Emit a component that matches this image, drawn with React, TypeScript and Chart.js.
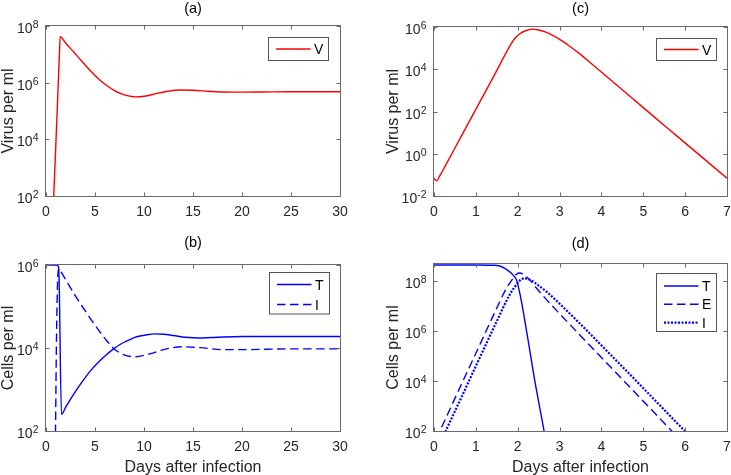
import React, { useEffect, useRef } from "react";
import { Chart, registerables } from "chart.js";
Chart.register(...registerables);

const W = 731;
const H = 475;

// ---------- Panel (a): virus, 30 days ----------
const aTime = [0.7, 0.79, 1.0, 1.2, 1.35, 1.45, 2.0, 2.83, 3.7, 4.53, 5.4, 6.22, 7.0, 7.58, 8.3, 9.1, 10.2, 11.3, 12.5, 13.7, 15.0, 16.5, 18.1, 20, 22, 25, 30];
const aVirus = [1.7e1, 1e2, 6e3, 3.3e5, 7e6, 4.2e7, 2.51e7, 1.2e7, 5.5e6, 2.63e6, 1.32e6, 7.76e5, 5.25e5, 4.17e5, 3.47e5, 3.16e5, 3.39e5, 4.17e5, 5.0e5, 5.5e5, 5.37e5, 5.0e5, 4.68e5, 4.62e5, 4.68e5, 4.79e5, 4.79e5];

// ---------- Panel (b): cells, 30 days ----------
const bTimeT = [0, 1.1, 1.22, 1.3, 1.58, 2.0, 2.83, 3.7, 4.53, 5.4, 6.22, 6.9, 7.6, 8.25, 9.0, 9.6, 10.3, 11, 12, 13, 14.2, 15.7, 17.5, 20, 25, 30];
const bT = [1e6, 1e6, 9.5e5, 8.3e5, 251, 372, 776, 1549, 2818, 4677, 7079, 9550, 1.23e4, 1.48e4, 1.78e4, 1.95e4, 2.09e4, 2.19e4, 2.14e4, 2.0e4, 1.82e4, 1.74e4, 1.82e4, 1.9e4, 1.9e4, 1.9e4];
const bTimeI = [0.9, 0.97, 1.07, 1.2, 1.33, 1.6, 2.2, 2.83, 3.7, 4.53, 5.4, 6.22, 6.9, 7.9, 9.1, 10.6, 12.3, 14.0, 15.7, 18.1, 20, 25, 30];
const bI = [5, 1e2, 1.7e4, 5e5, 8.3e5, 6.46e5, 3.72e5, 2.09e5, 1e5, 5.13e4, 2.63e4, 1.48e4, 9.77e3, 6.92e3, 6.17e3, 7.24e3, 9.55e3, 1.07e4, 1.02e4, 9.12e3, 9.12e3, 9.55e3, 9.55e3];

// ---------- Panel (c): virus, 7 days ----------
const cTime = [0, 0.06, 0.15, 0.26, 0.66, 1.05, 1.45, 1.85, 1.95, 2.05, 2.17, 2.36, 2.5, 2.64, 2.8, 3.04, 3.2, 3.44, 3.8, 4.23, 5.02, 5.82, 7.0];
const cVirus = [0.069, 0.052, 0.1, 0.245, 7.2, 195, 5750, 1.66e5, 3.16e5, 4.79e5, 6.46e5, 7.9e5, 7.24e5, 6.03e5, 4.37e5, 2.34e5, 1.41e5, 6.31e4, 1.58e4, 3.02e3, 141, 6.46, 0.069];

// ---------- Panel (d): cells, 7 days ----------
const dTimeT = [0, 1.0, 1.4, 1.55, 1.69, 1.85, 1.97, 2.03, 2.09, 2.25, 2.4, 2.63, 2.75];
const dT = [4.2e8, 4.2e8, 4.1e8, 3.9e8, 3.1e8, 1.95e8, 1.05e8, 4.5e7, 1.45e7, 4e5, 1.2e4, 1e2, 7];
const dTimeE = [0.05, 0.14, 0.6, 1.0, 1.4, 1.7, 1.85, 1.95, 2.03, 2.15, 2.3, 2.45, 2.64, 3.0, 3.44, 4.23, 5.0, 5.68, 5.8];
const dE = [4.8e1, 1e2, 4.6e3, 1.26e5, 3.5e6, 4e7, 1e8, 1.66e8, 2e8, 1.74e8, 1e8, 5e7, 2.14e7, 4.8e6, 8.1e5, 3.4e4, 1.55e3, 1e2, 6.2e1];
const dTimeI = [0.2, 0.28, 0.7, 1.1, 1.5, 1.8, 1.95, 2.05, 2.15, 2.3, 2.5, 2.7, 3.0, 3.44, 4.23, 5.0, 5.99, 6.1];
const dI = [5.1e1, 1e2, 3.2e3, 8.9e4, 2.4e6, 2.6e7, 6.3e7, 1e8, 1.23e8, 1.07e8, 6.3e7, 3.5e7, 1.2e7, 2.3e6, 1.05e5, 5.1e3, 1e2, 6.5e1];

// ---------- Tick labels ----------
const xTicks30 = [0, 5, 10, 15, 20, 25, 30];
const xTicks7 = [0, 1, 2, 3, 4, 5, 6, 7];
const yExpA = [2, 4, 6, 8];
const yExpB = [2, 4, 6];
const yExpC = [-2, 0, 2, 4, 6];
const yExpD = [2, 4, 6, 8];

const RED = "#ff0000";
const BLUE = "#0000ff";
const AXIS = "#6a6a6a";
const TEXT = "#262626";
const FONT = '"Liberation Sans", Arial, Helvetica, sans-serif';

type Series = { label: string; t: number[]; v: number[]; color: string; width: number; dash: number[] };
type Panel = {
  area: { l: number; t: number; r: number; b: number };
  title: string;
  titleY: number;
  xMin: number;
  xMax: number;
  xTicks: number[];
  yMin: number;
  yMax: number;
  yExps: number[];
  yLabel: string;
  yLabelX: number;
  xLabel?: string;
  series: Series[];
  legend: { x: number; y: number; w: number; h: number; first: number; step: number };
};

const panels: Panel[] = [
  {
    area: { l: 46, t: 26, r: 340, b: 196 },
    title: "(a)", titleY: 13,
    xMin: 0, xMax: 30, xTicks: xTicks30,
    yMin: 1e2, yMax: 1e8, yExps: yExpA,
    yLabel: "Virus per ml", yLabelX: 13,
    series: [{ label: "V", t: aTime, v: aVirus, color: RED, width: 1.4, dash: [] }],
    legend: { x: 268.5, y: 37.5, w: 60, h: 23, first: 11.5, step: 18.5 },
  },
  {
    area: { l: 46, t: 265, r: 340, b: 431 },
    title: "(b)", titleY: 247,
    xMin: 0, xMax: 30, xTicks: xTicks30,
    yMin: 1e2, yMax: 1e6, yExps: yExpB,
    yLabel: "Cells per ml", yLabelX: 13,
    xLabel: "Days after infection",
    series: [
      { label: "T", t: bTimeT, v: bT, color: BLUE, width: 1.4, dash: [] },
      { label: "I", t: bTimeI, v: bI, color: BLUE, width: 1.4, dash: [8.5, 4.5] },
    ],
    legend: { x: 269.5, y: 272.5, w: 60, h: 41.5, first: 12, step: 20 },
  },
  {
    area: { l: 434, t: 27, r: 727, b: 196 },
    title: "(c)", titleY: 13,
    xMin: 0, xMax: 7, xTicks: xTicks7,
    yMin: 1e-2, yMax: 1e6, yExps: yExpC,
    yLabel: "Virus per ml", yLabelX: 397.5,
    series: [{ label: "V", t: cTime, v: cVirus, color: RED, width: 1.4, dash: [] }],
    legend: { x: 656.5, y: 38.5, w: 60, h: 22, first: 11, step: 18.5 },
  },
  {
    area: { l: 434, t: 264, r: 727, b: 431 },
    title: "(d)", titleY: 248,
    xMin: 0, xMax: 7, xTicks: xTicks7,
    yMin: 1e2, yMax: 4.6e8, yExps: yExpD,
    yLabel: "Cells per ml", yLabelX: 397.5,
    xLabel: "Days after infection",
    series: [
      { label: "T", t: dTimeT, v: dT, color: BLUE, width: 1.4, dash: [] },
      { label: "E", t: dTimeE, v: dE, color: BLUE, width: 1.4, dash: [8.5, 4.5] },
      { label: "I", t: dTimeI, v: dI, color: BLUE, width: 2.2, dash: [2, 1.5] },
    ],
    legend: { x: 656.5, y: 273.5, w: 60, h: 58, first: 12.5, step: 18.3 },
  },
];

function makePlugin(p: Panel) {
  return {
    id: "matlabAxes",
    afterDraw(chart: any) {
      const ctx: CanvasRenderingContext2D = chart.ctx;
      const xs = chart.scales.x;
      const ys = chart.scales.y;
      const { left, top, right, bottom } = chart.chartArea;
      const L = Math.round(left) - 0.5;
      const R = Math.round(right) + 0.5;
      const T = Math.round(top) - 0.5;
      const B = Math.round(bottom) + 0.5;
      ctx.save();
      // frame
      ctx.strokeStyle = AXIS;
      ctx.lineWidth = 1;
      ctx.setLineDash([]);
      ctx.strokeRect(L, T, R - L, B - T);
      // ticks (inward, all four sides)
      const tl = 4;
      ctx.beginPath();
      p.xTicks.forEach((v) => {
        const px = Math.round(xs.getPixelForValue(v)) + 0.5;
        ctx.moveTo(px, B);
        ctx.lineTo(px, B - tl);
        ctx.moveTo(px, T);
        ctx.lineTo(px, T + tl);
      });
      p.yExps.forEach((e) => {
        const py = Math.round(ys.getPixelForValue(Math.pow(10, e))) + 0.5;
        ctx.moveTo(L, py);
        ctx.lineTo(L + tl, py);
        ctx.moveTo(R, py);
        ctx.lineTo(R - tl, py);
      });
      ctx.stroke();

      // x tick labels
      ctx.fillStyle = TEXT;
      ctx.font = `14px ${FONT}`;
      ctx.textAlign = "center";
      ctx.textBaseline = "alphabetic";
      p.xTicks.forEach((v) => {
        ctx.fillText(String(v), xs.getPixelForValue(v), bottom + 20);
      });

      // y tick labels: 10 with superscript exponent
      ctx.textAlign = "left";
      p.yExps.forEach((e) => {
        const py = ys.getPixelForValue(Math.pow(10, e));
        const expStr = e < 0 ? "-" + String(-e) : String(e);
        ctx.font = `10.5px ${FONT}`;
        const we = ctx.measureText(expStr).width;
        ctx.font = `14px ${FONT}`;
        const wb = ctx.measureText("10").width;
        const edge = left - 7.5;
        ctx.fillText("10", edge - we - wb, py + 7);
        ctx.font = `10.5px ${FONT}`;
        ctx.fillText(expStr, edge - we, py + 2);
      });

      // axis labels
      ctx.font = `16px ${FONT}`;
      ctx.textAlign = "center";
      ctx.save();
      ctx.translate(p.yLabelX, (top + bottom) / 2);
      ctx.rotate(-Math.PI / 2);
      ctx.fillText(p.yLabel, 0, 0);
      ctx.restore();
      if (p.xLabel) {
        ctx.fillText(p.xLabel, (left + right) / 2, 472.3);
      }

      // title
      ctx.fillStyle = "#000";
      ctx.font = `14.5px ${FONT}`;
      ctx.fillText(p.title, (left + right) / 2, p.titleY);

      // legend
      const lg = p.legend;
      ctx.fillStyle = "#fff";
      ctx.fillRect(lg.x, lg.y, lg.w, lg.h);
      ctx.strokeStyle = "#555";
      ctx.lineWidth = 1;
      ctx.strokeRect(lg.x, lg.y, lg.w, lg.h);
      p.series.forEach((s, i) => {
        const ry = lg.y + lg.first + i * lg.step;
        ctx.strokeStyle = s.color;
        ctx.lineWidth = s.width;
        ctx.setLineDash(s.dash);
        ctx.beginPath();
        ctx.moveTo(lg.x + 7.5, ry);
        ctx.lineTo(lg.x + 42, ry);
        ctx.stroke();
        ctx.setLineDash([]);
        ctx.fillStyle = "#000";
        ctx.font = `14px ${FONT}`;
        ctx.textAlign = "left";
        ctx.fillText(s.label, lg.x + 45.5, ry + 5);
      });
      ctx.restore();
    },
  };
}

function PanelChart({ p }: { p: Panel }) {
  const ref = useRef<HTMLCanvasElement | null>(null);
  useEffect(() => {
    if (!ref.current) return;
    const chart = new Chart(ref.current, {
      type: "line",
      data: {
        datasets: p.series.map((s) => ({
          label: s.label,
          data: s.t.map((t, i) => ({ x: t, y: s.v[i] })),
          borderColor: s.color,
          borderWidth: s.width,
          borderDash: s.dash,
          pointRadius: 0,
          fill: false,
          cubicInterpolationMode: "monotone" as const,
        })),
      },
      options: {
        responsive: false,
        animation: false,
        devicePixelRatio: 1,
        events: [],
        layout: {
          padding: { left: p.area.l, top: p.area.t, right: W - p.area.r, bottom: H - p.area.b },
        },
        scales: {
          x: { type: "linear", display: false, min: p.xMin, max: p.xMax },
          y: { type: "logarithmic", display: false, min: p.yMin, max: p.yMax },
        },
        plugins: {
          legend: { display: false },
          tooltip: { enabled: false },
          title: { display: false },
        },
      },
      plugins: [makePlugin(p)],
    } as any);
    return () => chart.destroy();
  }, [p]);
  return (
    <canvas
      ref={ref}
      width={W}
      height={H}
      style={{ position: "absolute", left: 0, top: 0, width: W, height: H }}
    />
  );
}

export default function App() {
  return (
    <div style={{ position: "fixed", left: 0, top: 0, width: W, height: H, background: "#fff" }}>
      {panels.map((p, i) => (
        <PanelChart key={i} p={p} />
      ))}
    </div>
  );
}
